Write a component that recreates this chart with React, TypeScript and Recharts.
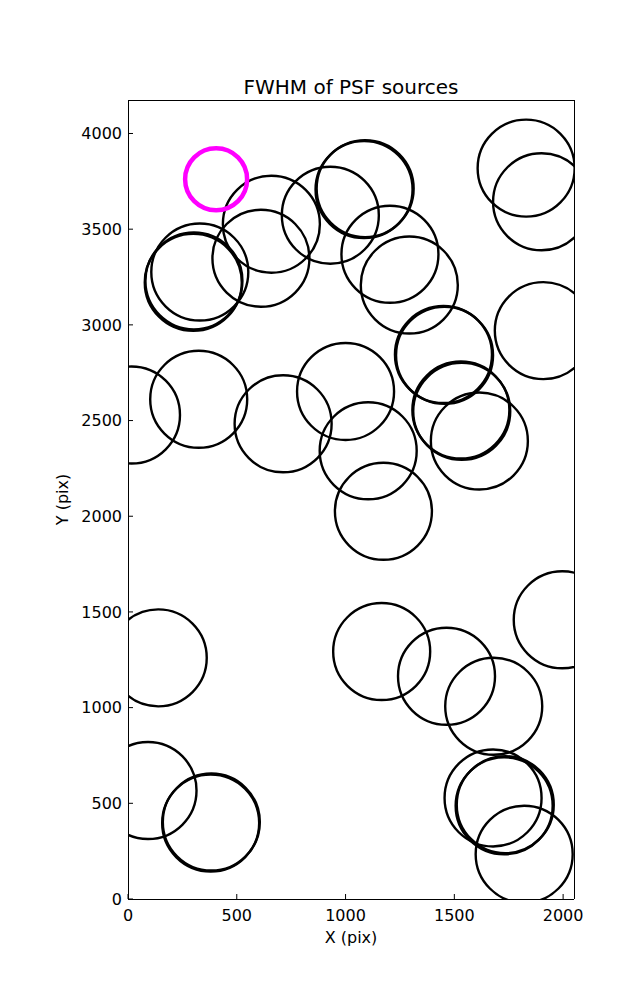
import { ScatterChart, Scatter, XAxis, YAxis, Label } from 'recharts';

// PSF source positions (pix)
const srcX = [659, 611, 330, 303, 300, 930, 1085, 1090, 1204, 1293, 1830, 1901, 1909, 1455, 1450, 1534, 1530, 1615, 1000, 1104, 713, 1174, 16, 325, 139, 1166, 1464, 1681, 1996, 92, 380, 383, 1678, 1734, 1729, 1821];
const srcY = [3526, 3348, 3276, 3230, 3222, 3573, 3707, 3712, 3369, 3208, 3819, 3643, 2970, 2841, 2845, 2548, 2555, 2393, 2652, 2342, 2483, 2026, 2529, 2611, 1260, 1293, 1164, 1007, 1459, 567, 397, 402, 528, 493, 487, 234];

// highlighted reference source
const refX = [405];
const refY = [3761];

const xTicks = [0, 500, 1000, 1500, 2000];
const yTicks = [0, 500, 1000, 1500, 2000, 2500, 3000, 3500, 4000];

const sources = srcX.map((x, i) => ({ x, y: srcY[i] }));
const reference = refX.map((x, i) => ({ x, y: refY[i] }));

// layout
const W = 637;
const H = 1000;
const margin = { top: 99, right: 62, bottom: 61, left: 68 };
const yAxisW = 60;
const xAxisH = 40;
const plot = {
    x: margin.left + yAxisW,
    y: margin.top + 1,
    w: W - margin.left - yAxisW - margin.right - 1,
    h: H - margin.top - 1 - margin.bottom - xAxisH,
};

const font = 'DejaVu Sans, sans-serif';
const tickStyle = { fontSize: 16, fill: '#000', fontFamily: font };
const boxLine = { stroke: '#000', shapeRendering: 'crispEdges' };

// matplotlib clips markers exactly at the axes box
const ring = (r: number, color: string, width: number) => (props: any) => {
    const id = `clip-${color.slice(1)}-${Math.round(props.cx)}-${Math.round(props.cy)}`;
    return (
        <g>
            <clipPath id={id}>
                <rect x={plot.x} y={plot.y} width={plot.w} height={plot.h} />
            </clipPath>
            <circle cx={props.cx} cy={props.cy} r={r} fill="none" stroke={color} strokeWidth={width} clipPath={`url(#${id})`} />
        </g>
    );
};

const Title = ({ viewBox }: any) => (
    <text x={viewBox.x + viewBox.width / 2} y={viewBox.y + viewBox.height - 6} textAnchor="middle" fontSize={20} fontFamily={font} fill="#000">
        FWHM of PSF sources
    </text>
);

const YTitle = ({ viewBox }: any) => {
    const cx = viewBox.x - 6;
    const cy = viewBox.y + viewBox.height / 2;
    return (
        <text x={cx} y={cy} dy="0.35em" transform={`rotate(-90 ${cx} ${cy})`} textAnchor="middle" fontSize={16} fontFamily={font} fill="#000">
            Y (pix)
        </text>
    );
};

export default function App() {
    return (
        <div style={{ position: 'absolute', left: 0, top: 0, background: '#fff' }}>
            <ScatterChart width={W} height={H} margin={margin}>
                <XAxis
                    xAxisId="b"
                    type="number"
                    dataKey="x"
                    domain={[0, 2050]}
                    ticks={xTicks}
                    allowDataOverflow
                    height={xAxisH}
                    stroke="#000"
                    axisLine={boxLine}
                    tickSize={-5}
                    tickMargin={16}
                    tick={tickStyle}
                >
                    <Label value="X (pix)" position="insideBottom" offset={-4} style={{ fontSize: 16, fontFamily: font, fill: '#000' }} />
                </XAxis>
                <XAxis
                    xAxisId="t"
                    orientation="top"
                    type="number"
                    dataKey="x"
                    domain={[0, 2050]}
                    ticks={xTicks}
                    allowDataOverflow
                    height={1}
                    stroke="#000"
                    axisLine={boxLine}
                    tickSize={-5}
                    tick={false}
                >
                    <Label content={<Title />} />
                </XAxis>
                <YAxis
                    yAxisId="l"
                    type="number"
                    dataKey="y"
                    domain={[0, 4175]}
                    ticks={yTicks}
                    allowDataOverflow
                    width={yAxisW}
                    stroke="#000"
                    axisLine={boxLine}
                    tickSize={-5}
                    tickMargin={11}
                    tick={tickStyle}
                >
                    <Label content={<YTitle />} />
                </YAxis>
                <YAxis
                    yAxisId="r"
                    orientation="right"
                    type="number"
                    dataKey="y"
                    domain={[0, 4175]}
                    ticks={yTicks}
                    allowDataOverflow
                    width={1}
                    stroke="#000"
                    axisLine={boxLine}
                    tickSize={-5}
                    tick={false}
                />
                <Scatter
                    data={sources}
                    xAxisId="b"
                    yAxisId="l"
                    shape={ring(48.5, '#000', 2.4)}
                    isAnimationActive={false}
                />
                <Scatter
                    data={reference}
                    xAxisId="b"
                    yAxisId="l"
                    shape={ring(31, '#ff00ff', 4.5)}
                    isAnimationActive={false}
                />
                <Scatter data={[]} xAxisId="t" yAxisId="r" isAnimationActive={false} />
            </ScatterChart>
        </div>
    );
}
